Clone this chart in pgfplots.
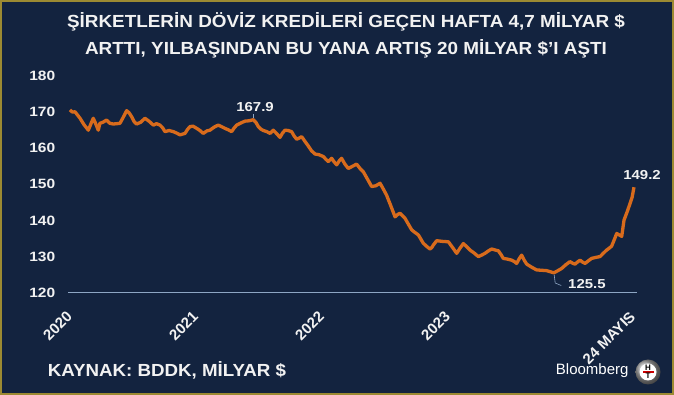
\documentclass[border=0pt]{standalone}
\usepackage{pgfplots}
\pgfplotsset{compat=1.18}
\usepackage{fontspec}
\setmainfont{Liberation Sans}
\definecolor{bgc}{HTML}{13233F}
\definecolor{goldc}{HTML}{9C8A32}
\definecolor{linec}{HTML}{D86B1C}
\definecolor{axc}{HTML}{8EA6C4}
\definecolor{txc}{HTML}{F2F2F2}
\begin{document}
\begin{tikzpicture}[x=1pt,y=1pt]
\fill[bgc] (0,0) rectangle (674,395);
\draw[goldc, line width=2pt] (1,1) rectangle (673,394);
\node[txc, align=center, font=\fontsize{17.5}{27}\selectfont\bfseries, xscale=1.08] at (346,360)
  {ŞİRKETLERİN DÖVİZ KREDİLERİ GEÇEN HAFTA 4,7 MİLYAR \$\\ARTTI, YILBAŞINDAN BU YANA ARTIŞ 20 MİLYAR \$'I AŞTI};
\node[txc, anchor=west, font=\fontsize{17.5}{20}\selectfont\bfseries, xscale=1.07] at (44,25) {KAYNAK: BDDK, MİLYAR \$};
\node[white, anchor=east, font=\fontsize{15}{16}\selectfont] at (632,24) {Bloomberg};
\shade[ball color=gray!70] (648,23) circle (12.5);
\fill[white] (648,23) circle (8.5);
\node[font=\fontsize{8}{8}\selectfont\bfseries, inner sep=0] at (648,27) {H};
\fill[red!80!black] (642.5,22.2) rectangle (653.5,23.8);
\node[font=\fontsize{8}{8}\selectfont\bfseries, inner sep=0] at (648,18.8) {T};
\begin{axis}[
  at={(68.3pt,102.3pt)}, anchor=south west,
  width=568.3pt, height=216.7pt, scale only axis,
  xmin=0, xmax=4.51, ymin=120, ymax=180,
  clip=false,
  axis x line*=bottom, axis y line*=left,
  y axis line style={draw=none},
  x axis line style={draw=axc, line width=1.3pt, -},
  tick style={draw=none},
  ytick={120,130,...,180},
  xtick={0,1,2,3,4.47},
  xticklabels={2020,2021,2022,2023,24 MAYIS},
  yticklabel style={txc, font=\fontsize{13.5}{14}\selectfont\bfseries, anchor=east, xshift=-9pt, xscale=1.15},
  xticklabel style={txc, font=\fontsize{15}{16}\selectfont\bfseries, rotate=45, anchor=east, yshift=-16pt, xshift=-11pt},
  /pgf/number format/assume math mode=true,
]
\addplot[linec, line width=3.3pt, line join=round] coordinates {
(0.013,170.6)(0.033,170.0)(0.053,170.1)(0.073,169.2)(0.093,168.3)(0.125,166.5)(0.159,165.0)(0.180,166.8)(0.198,168.3)(0.215,167.0)(0.238,165.0)(0.251,166.9)(0.275,167.2)(0.304,167.8)(0.330,166.9)(0.357,166.7)(0.385,166.8)(0.410,166.9)(0.435,168.5)(0.463,170.4)(0.483,169.8)(0.503,168.7)(0.522,167.4)(0.542,166.7)(0.575,167.2)(0.608,168.3)(0.640,167.5)(0.675,166.4)(0.700,166.8)(0.728,166.4)(0.750,165.6)(0.767,164.6)(0.800,164.9)(0.833,164.6)(0.860,164.2)(0.886,163.7)(0.905,163.9)(0.926,164.1)(0.946,165.2)(0.966,166.0)(0.990,166.1)(1.019,165.5)(1.045,164.9)(1.071,164.1)(1.100,164.8)(1.124,165.0)(1.160,165.9)(1.190,166.4)(1.215,166.0)(1.243,165.5)(1.270,165.1)(1.296,164.6)(1.316,165.6)(1.336,166.4)(1.370,167.0)(1.402,167.5)(1.435,167.6)(1.468,167.9)(1.490,167.1)(1.508,166.0)(1.528,165.3)(1.548,164.9)(1.575,164.6)(1.601,164.1)(1.627,165.0)(1.655,164.0)(1.680,163.0)(1.700,164.2)(1.720,165.0)(1.745,164.9)(1.772,164.6)(1.792,163.4)(1.812,162.5)(1.832,162.8)(1.852,163.2)(1.880,161.8)(1.905,160.6)(1.930,159.3)(1.958,158.4)(1.990,158.2)(2.024,157.7)(2.045,156.9)(2.063,156.3)(2.090,157.2)(2.110,156.2)(2.130,155.4)(2.150,156.5)(2.169,157.2)(2.195,155.6)(2.222,154.4)(2.255,155.0)(2.288,155.6)(2.315,154.4)(2.341,153.5)(2.375,151.4)(2.407,149.4)(2.440,149.6)(2.474,150.3)(2.500,148.7)(2.526,147.0)(2.560,144.0)(2.593,141.0)(2.612,141.6)(2.632,142.0)(2.672,140.6)(2.700,138.9)(2.725,137.4)(2.750,136.7)(2.778,136.0)(2.817,133.7)(2.845,132.8)(2.870,132.1)(2.885,132.5)(2.897,133.2)(2.923,134.4)(2.970,134.2)(3.016,134.1)(3.050,132.5)(3.082,130.9)(3.110,132.4)(3.135,133.6)(3.160,132.8)(3.188,131.8)(3.220,131.0)(3.254,130.0)(3.280,130.4)(3.307,130.9)(3.335,131.6)(3.360,132.1)(3.390,131.8)(3.413,131.6)(3.435,130.5)(3.452,129.5)(3.485,129.3)(3.519,129.0)(3.540,128.6)(3.558,128.1)(3.580,129.5)(3.598,130.4)(3.618,129.0)(3.638,127.9)(3.680,127.0)(3.717,126.3)(3.760,126.2)(3.796,126.1)(3.825,125.8)(3.854,125.5)(3.885,126.1)(3.915,126.7)(3.950,127.8)(3.981,128.6)(4.000,128.2)(4.021,127.9)(4.041,128.5)(4.061,129.0)(4.080,128.5)(4.101,128.1)(4.130,128.9)(4.153,129.5)(4.190,129.8)(4.220,130.0)(4.245,130.9)(4.272,131.8)(4.292,132.3)(4.312,132.9)(4.332,134.6)(4.352,136.4)(4.372,136.0)(4.392,135.6)(4.410,140.1)(4.435,142.4)(4.458,144.7)(4.475,146.5)(4.489,149.2)
};
\draw[axc, line width=0.6pt] (axis cs:1.468,168.4) -- (axis cs:1.468,169.6);
\node[txc, font=\fontsize{13}{14}\selectfont\bfseries, xscale=1.15] at (axis cs:1.482,171.5) {167.9};
\draw[axc, line width=0.6pt] (axis cs:3.856,124.9) -- ++(1pt,-8pt) -- ++(6pt,-2.5pt);
\node[txc, font=\fontsize{13}{14}\selectfont\bfseries, xscale=1.15, anchor=west] at (axis cs:3.935,122.5) {125.5};
\node[txc, font=\fontsize{13}{14}\selectfont\bfseries, xscale=1.15] at (axis cs:4.553,152.5) {149.2};
\end{axis}
\end{tikzpicture}
\end{document}
